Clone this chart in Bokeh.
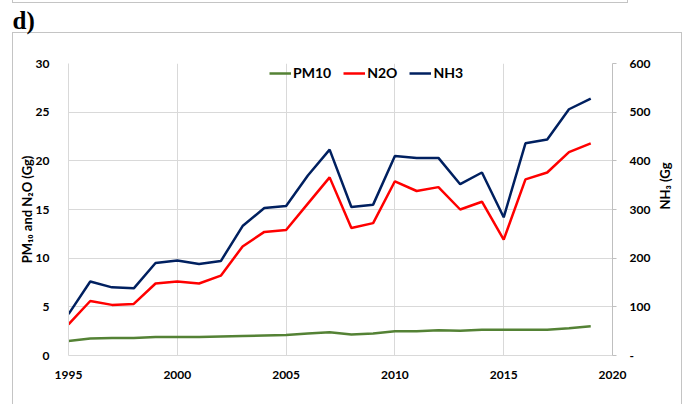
import math
from bokeh.plotting import figure
from bokeh.models import (Range1d, LinearAxis, FixedTicker, Legend, LegendItem,
                          InlineStyleSheet, Title)
from bokeh.embed import file_html
from bokeh.resources import INLINE

# ---- data ----
years = list(range(1995, 2020))
pm10 = [1.5, 1.75, 1.8, 1.8, 1.9, 1.9, 1.9, 1.95, 2.0, 2.05, 2.1, 2.25, 2.4, 2.15, 2.25,
        2.5, 2.5, 2.6, 2.55, 2.65, 2.65, 2.65, 2.65, 2.8, 3.0]
n2o = [3.2, 5.6, 5.2, 5.3, 7.4, 7.6, 7.4, 8.2, 11.2, 12.7, 12.9, 15.6, 18.3, 13.1, 13.6,
       17.9, 16.9, 17.3, 15.0, 15.8, 11.9, 18.1, 18.8, 20.9, 21.8]
nh3 = [85, 152, 140, 138, 190, 195, 188, 194, 266, 303, 307, 370, 423, 305, 310,
       410, 406, 406, 352, 376, 284, 436, 444, 506, 528]

x_ticks = [1995, 2000, 2005, 2010, 2015, 2020]
left_ticks = [0, 5, 10, 15, 20, 25, 30]
right_ticks = [0, 100, 200, 300, 400, 500, 600]
series_names = ["PM10", "N2O", "NH3"]
colors = ["#548235", "#FF0000", "#002060"]

FONT = "Lato"
GRID = "#d9d9d9"
BOXC = "#c4c4c4"

# panel frame lines (pure decoration, drawn with CSS behind a transparent border)
css = (":host {"
       f"background-image: linear-gradient({BOXC},{BOXC}), linear-gradient({BOXC},{BOXC}),"
       f" linear-gradient({BOXC},{BOXC}), linear-gradient({BOXC},{BOXC}),"
       f" linear-gradient({BOXC},{BOXC}), linear-gradient({BOXC},{BOXC});"
       "background-repeat: no-repeat;"
       "background-size: 670px 1px, 1px 380px, 1px 380px, 616px 1px, 1px 3px, 1px 3px;"
       "background-position: 12px 32px, 12px 32px, 681px 32px, 12px 2px, 12px 0px, 627px 0px;"
       "}")

p = figure(width=685, height=404, x_range=Range1d(1995, 2020), y_range=Range1d(0, 30),
           output_backend="svg", toolbar_location=None,
           min_border_left=68, min_border_right=73, min_border_top=62, min_border_bottom=49)
p.stylesheets = [InlineStyleSheet(css=css)]
p.outline_line_color = None
p.background_fill_color = "white"
p.border_fill_color = None

p.extra_y_ranges = {"nh3": Range1d(0, 600)}

# built-in title unused
p.title.text = ""
p.title.standoff = 0

# spacer between plot area and the panel letter, then the panel letter itself
spacer = Title(text=" ", text_font_size="2px", standoff=18)
p.add_layout(spacer, "above")
letter = Title(text="d)", align="left", vertical_align="top", offset=-56,
               text_font="Liberation Serif", text_font_style="bold",
               text_font_size="25px", text_color="#000000", standoff=12)
p.add_layout(letter, "above")

# x axis
xa = p.xaxis[0]
xa.ticker = FixedTicker(ticks=x_ticks)
xa.major_tick_line_color = None
xa.minor_tick_line_color = None
xa.axis_line_color = GRID
xa.major_label_text_font = FONT
xa.major_label_text_font_style = "bold"
xa.major_label_text_font_size = "12px"
xa.major_label_text_color = "#000000"
xa.major_label_standoff = 9

# left axis
ya = p.yaxis[0]
ya.ticker = FixedTicker(ticks=left_ticks)
ya.major_tick_line_color = None
ya.minor_tick_line_color = None
ya.axis_line_color = GRID
ya.major_label_text_font = FONT
ya.major_label_text_font_style = "bold"
ya.major_label_text_font_size = "12px"
ya.major_label_text_color = "#000000"
ya.major_label_standoff = 13
ya.axis_label = "PM\u2081\u2080 and N\u2082O (Gg)"
ya.axis_label_text_font = FONT
ya.axis_label_text_font_style = "bold"
ya.axis_label_text_font_size = "13px"
ya.axis_label_text_color = "#000000"
ya.axis_label_standoff = -2

# right axis
ra = LinearAxis(y_range_name="nh3", ticker=FixedTicker(ticks=right_ticks),
                major_label_overrides={0: "-"})
ra.major_tick_out = 4
ra.major_tick_in = 0
ra.major_tick_line_color = "#bfbfbf"
ra.minor_tick_line_color = None
ra.axis_line_color = "#bfbfbf"
ra.major_label_text_font = FONT
ra.major_label_text_font_style = "bold"
ra.major_label_text_font_size = "12px"
ra.major_label_text_color = "#000000"
ra.major_label_standoff = 13
ra.axis_label = "NH\u2083 (Gg"
ra.axis_label_text_font = FONT
ra.axis_label_text_font_style = "bold"
ra.axis_label_text_font_size = "13px"
ra.axis_label_text_color = "#000000"
ra.axis_label_standoff = 12
try:
    ra.axis_label_orientation = math.pi / 2
except AttributeError:
    pass
p.add_layout(ra, "right")

# grids
p.xgrid.ticker = FixedTicker(ticks=x_ticks)
p.ygrid.ticker = FixedTicker(ticks=left_ticks)
p.xgrid.grid_line_color = GRID
p.ygrid.grid_line_color = GRID

# lines
r1 = p.line(years, pm10, line_color=colors[0], line_width=2.5)
r2 = p.line(years, n2o, line_color=colors[1], line_width=2.5)
r3 = p.line(years, nh3, line_color=colors[2], line_width=2.5, y_range_name="nh3")

legend = Legend(items=[LegendItem(label=series_names[0], renderers=[r1]),
                       LegendItem(label=series_names[1], renderers=[r2]),
                       LegendItem(label=series_names[2], renderers=[r3])],
                orientation="horizontal", location=(201, 274),
                padding=0, margin=0, spacing=12, glyph_width=22, glyph_height=14,
                label_height=14, label_standoff=2,
                label_text_font=FONT, label_text_font_style="bold",
                label_text_font_size="14px", label_text_color="#000000",
                background_fill_alpha=0, border_line_color=None)
p.add_layout(legend)

open("out.html", "w").write(file_html(p, INLINE))
